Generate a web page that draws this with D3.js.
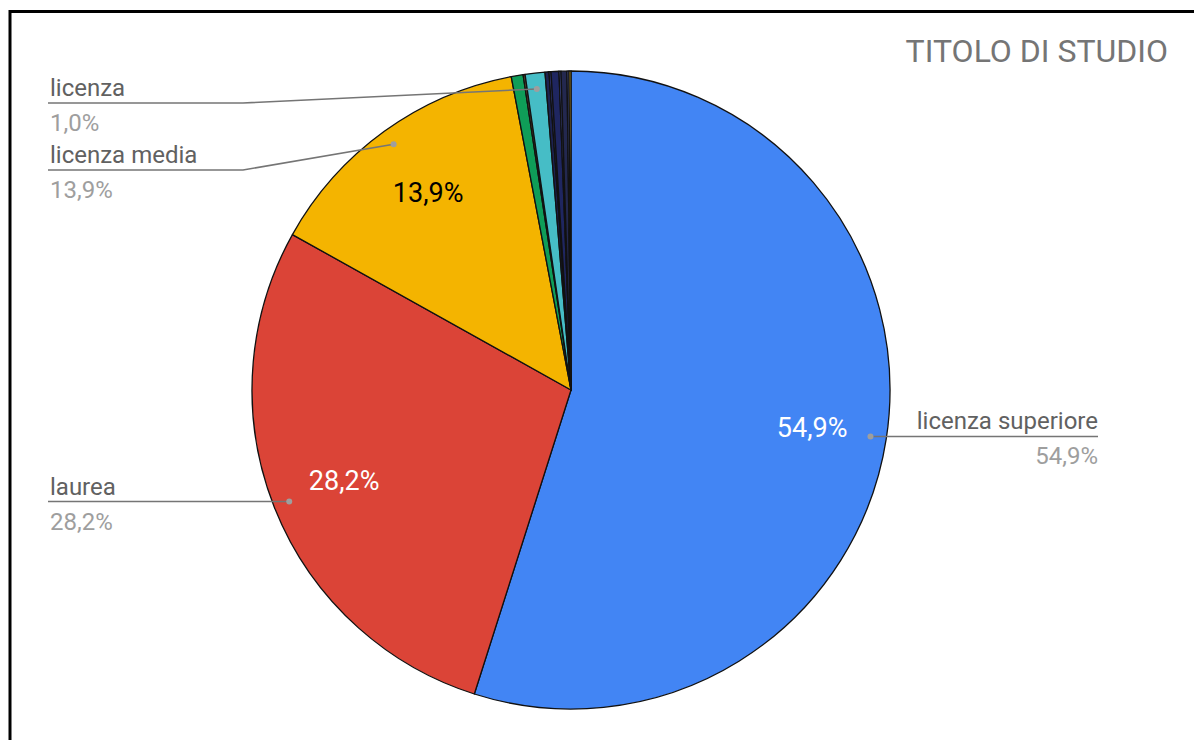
<!DOCTYPE html>
<html><head><meta charset="utf-8">
<script src="https://cdn.jsdelivr.net/npm/d3@7"></script>
<style>html,body{margin:0;padding:0;background:#fff;}svg{display:block;font-family:Roboto,"Noto Sans",sans-serif;}</style>
</head><body>
<svg id="c" width="1194" height="740"></svg>
<script>
const title = "TITOLO DI STUDIO";
const categories = ["licenza superiore","laurea","licenza media","altro A","altro B","licenza","altro C","altro D","altro E","altro F","altro G","altro H","altro I"];
const values = [54.9, 28.2, 13.9, 0.6, 0.1, 1.0, 0.2, 0.1, 0.4, 0.1, 0.3, 0.1, 0.1];
const labelText = ["54,9%","28,2%","13,9%","","","1,0%","","","","","","",""];
const sideLabels = ["licenza superiore","laurea","licenza media","licenza"];
const colors = ["#4285F4","#DB4437","#F4B400","#0F9D58","#6b4e2e","#46BDC6","#1c2250","#3a3f8f","#1f2660","#4a56a8","#23284f","#5C6BC0","#C9A227"];
const insideLabels = ["licenza superiore","laurea","licenza media"];
const insideColor = ["#ffffff","#ffffff","#000000"];

const svg = d3.select("#c");
const W = 1194, H = 740;
const cx = 571, cy = 390, R = 319;

// frame
svg.append("path").attr("d", `M10,${H} V11.5 H${W}`).attr("fill","none").attr("stroke","#000").attr("stroke-width",3);

// title
svg.append("text").attr("x",1168).attr("y",62).attr("text-anchor","end")
  .attr("font-size",32).attr("fill","#757575").text(title);

const data = categories.map((c,i)=>({name:c, value:values[i], color:colors[i], label:labelText[i]}));
const pie = d3.pie().value(d=>d.value).sort(null);
const arcs = pie(data);
const arc = d3.arc().innerRadius(0).outerRadius(R);
const labelArc = d3.arc().innerRadius(R*0.765).outerRadius(R*0.765);
const dotArc = d3.arc().innerRadius(R*0.95).outerRadius(R*0.95);

const g = svg.append("g").attr("transform",`translate(${cx},${cy})`);
g.selectAll("path.slice").data(arcs).enter().append("path")
  .attr("class","slice").attr("d",arc).attr("fill",d=>d.data.color)
  .attr("stroke","#111").attr("stroke-width",1.3).attr("stroke-linejoin","round");

// inside labels
g.selectAll("text.in").data(arcs.filter(a=>insideLabels.includes(a.data.name))).enter().append("text")
  .attr("class","in")
  .attr("transform",d=>{const c=labelArc.centroid(d);return `translate(${c[0]},${c[1]})`;})
  .attr("text-anchor","middle").attr("dy","0.36em").attr("font-size",27)
  .attr("fill",d=>insideColor[insideLabels.indexOf(d.data.name)])
  .text(d=>d.data.label);

// side labels with leader lines
const side = arcs.filter(a=>sideLabels.includes(a.data.name)).map(a=>{
  const c = dotArc.centroid(a);
  return {a, dx:cx+c[0], dy:cy+c[1], right: c[0]>0};
});
const leftX = 48, rightX = 1098, bendLeft = 243, minY = 103, gap = 67;
const lefts = side.filter(s=>!s.right).sort((p,q)=>p.dy-q.dy);
let prev = -Infinity;
lefts.forEach(s=>{ s.ly = Math.max(s.dy, minY, prev+gap); prev = s.ly; });
side.filter(s=>s.right).forEach(s=>{ s.ly = s.dy; });

const lg = svg.append("g");
side.forEach(s=>{
  let pts;
  if (s.right) pts = [[s.dx,s.dy],[rightX,s.ly]];
  else if (Math.abs(s.ly - s.dy) < 3) pts = [[s.dx,s.dy],[leftX,s.ly]];
  else pts = [[s.dx,s.dy],[bendLeft,s.ly],[leftX,s.ly]];
  lg.append("path").attr("d",d3.line()(pts)).attr("fill","none").attr("stroke","#757575").attr("stroke-width",1.5);
  lg.append("circle").attr("cx",s.dx).attr("cy",s.dy).attr("r",3).attr("fill","#9e9e9e");
  const x = s.right ? rightX : leftX+2;
  const anchor = s.right ? "end" : "start";
  lg.append("text").attr("x",x).attr("y",s.ly-7).attr("text-anchor",anchor)
    .attr("font-size",24).attr("fill","#616161").text(s.a.data.name);
  lg.append("text").attr("x",x).attr("y",s.ly+28).attr("text-anchor",anchor)
    .attr("font-size",24).attr("fill","#9e9e9e").text(s.a.data.label);
});
</script>
</body></html>
